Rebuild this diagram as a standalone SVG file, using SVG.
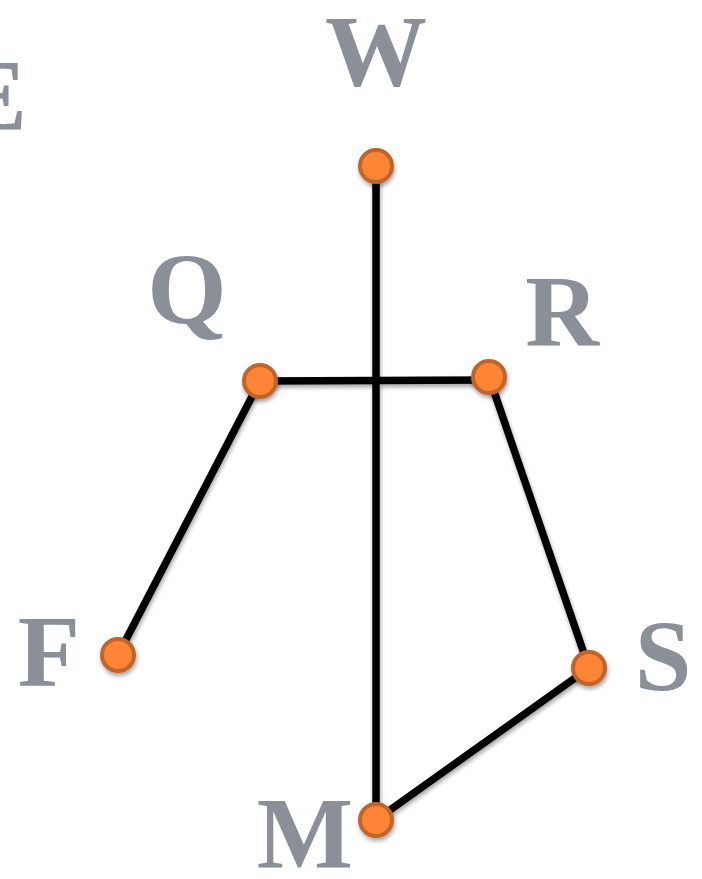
<svg xmlns="http://www.w3.org/2000/svg" width="702" height="879" viewBox="0 0 702 879">
<defs>
<style>
.lbl{font-family:"Liberation Serif","DejaVu Serif",serif;font-weight:bold;font-size:102px;fill:#8a8f98;text-anchor:middle}
.edge{stroke:#000;stroke-width:7.5;fill:none;stroke-linecap:round}
.node{fill:#fd8535;stroke:#c0652a;stroke-width:4}
</style>
<filter id="sh" x="-50%" y="-50%" width="200%" height="200%">
<feGaussianBlur in="SourceAlpha" stdDeviation="2"/>
<feOffset dx="1" dy="3" result="b"/>
<feComponentTransfer><feFuncA type="linear" slope="0.35"/></feComponentTransfer>
<feMerge><feMergeNode/><feMergeNode in="SourceGraphic"/></feMerge>
</filter>
</defs>
<rect width="702" height="879" fill="#fff"/>
<g id="connectors" filter="url(#sh)">
<line class="edge" x1="376" y1="166" x2="376" y2="820"/>
<line class="edge" x1="260" y1="381" x2="489" y2="380"/>
<line class="edge" x1="260" y1="381" x2="118" y2="655"/>
<line class="edge" x1="489" y1="377" x2="589" y2="668"/>
<line class="edge" x1="589" y1="668" x2="376" y2="820"/>
</g>
<g id="E"><text class="lbl" x="27" y="130" style="text-anchor:end">E</text></g>
<g id="W"><circle class="node" cx="376" cy="166" r="16" filter="url(#sh)"/><text class="lbl" x="376" y="86">W</text></g>
<g id="Q"><circle class="node" cx="260" cy="381" r="16" filter="url(#sh)"/><text class="lbl" x="187" y="324">Q</text></g>
<g id="R"><circle class="node" cx="489" cy="377" r="16" filter="url(#sh)"/><text class="lbl" x="562" y="346">R</text></g>
<g id="F"><circle class="node" cx="118" cy="655" r="16" filter="url(#sh)"/><text class="lbl" x="49" y="686">F</text></g>
<g id="S"><circle class="node" cx="589" cy="668" r="16" filter="url(#sh)"/><text class="lbl" x="663" y="691">S</text></g>
<g id="M"><circle class="node" cx="376" cy="820" r="16" filter="url(#sh)"/><text class="lbl" x="305" y="868">M</text></g>
</svg>
